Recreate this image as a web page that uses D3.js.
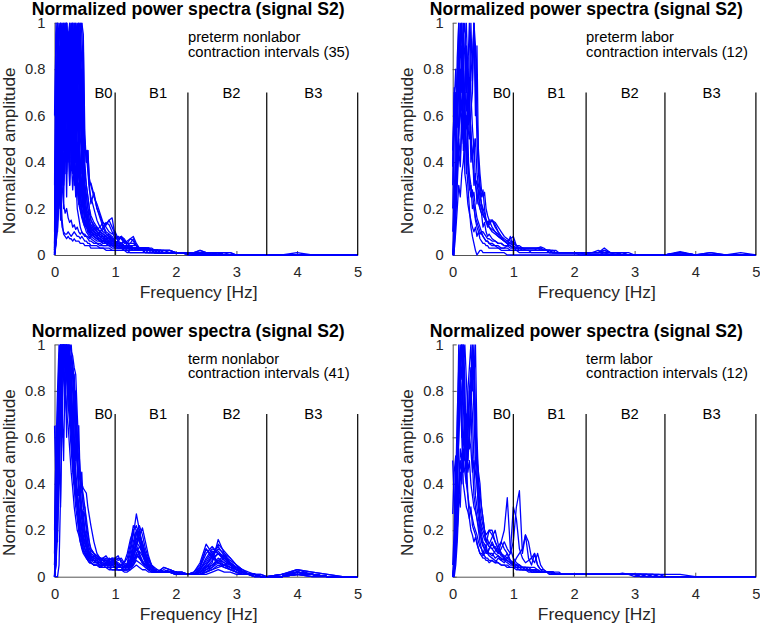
<!DOCTYPE html>
<html><head><meta charset="utf-8">
<script src="https://cdn.jsdelivr.net/npm/d3@7"></script>
<style>body{margin:0;background:#fff}svg{display:block}</style>
</head><body><svg id="c" width="760" height="627"></svg>
<script>
// ---------- DATA ----------
const freq = [0,.025,.05,.075,.1,.125,.15,.175,.2,.225,.25,.275,.3,.325,.35,.375,.4,.425,.45,.475,.5,.525,.55,.575,.6,
 .65,.7,.75,.8,.85,.9,.95,1,1.05,1.1,1.15,1.2,1.25,1.3,1.35,1.4,1.45,1.5,1.55,1.6,1.65,1.7,1.75,1.8,
 1.9,2,2.1,2.2,2.3,2.4,2.5,2.6,2.7,2.8,2.9,3,3.1,3.2,3.3,3.4,3.5,
 3.75,4,4.25,4.5,4.75,5];

const xTicks = [0,1,2,3,4,5];
const xTickLabels = ["0","1","2","3","4","5"];
const yTicks = [0,0.2,0.4,0.6,0.8,1];
const yTickLabels = ["0","0.2","0.4","0.6","0.8","1"];
const bandEdges = [1,2.2,3.5,5];
const bandNames = ["B0","B1","B2","B3"];
const bandTop = 0.7;
const titles = ["Normalized power spectra (signal S2)","Normalized power spectra (signal S2)","Normalized power spectra (signal S2)","Normalized power spectra (signal S2)"];
const groupNames = ["preterm nonlabor","preterm labor","term nonlabor","term labor"];
const groupCounts = [35,12,41,12];

const pretermNonlabor = [
 [0,.35,.72,.95,1,.82,.97,.64,.91,.58,.86,.47,.72,.39,.55,.28,.31,.22,.18,.14,.12,.1,.09,.08,.07, .06,.05,.05,.04,.04,.05,.04,.03,.03,.03,.02,.02,.02,.03,.02,.02,.02,.02,.02,.02,.01,.01,.01,.01, .01,.01,.01,.01,.01,.01,.01,.01,.01,0,0,0,0,0,0,0,0, 0,0,0,0,0,0],
 [.05,.6,.88,.7,.95,.76,1,.69,.94,.81,.99,.73,.88,.62,.8,.55,.66,.5,.45,.3,.2,.16,.12,.1,.09, .08,.07,.06,.06,.07,.08,.06,.05,.04,.04,.03,.03,.03,.02,.02,.02,.02,.02,.02,.01,.01,.01,.01,.01, .01,.01,.01,.01,.01,.01,.01,.01,0,0,0,0,0,0,0,0,0, 0,0,0,0,0,0],
 [.02,.2,.45,.38,.6,.52,.7,.48,.66,.59,.8,.67,.9,.75,.96,.82,1,.9,1,.95,.52,.4,.45,.3,.22, .27,.2,.17,.13,.1,.09,.08,.06,.05,.05,.04,.04,.03,.03,.03,.03,.03,.02,.02,.02,.02,.01,.01,.01, .01,.01,.01,.01,.01,.01,.01,.01,.01,.01,0,0,0,0,0,0,0, 0,0,0,0,0,0],
 [.3,1,.84,.42,.2,.12,.1,.09,.09,.1,.09,.08,.09,.1,.09,.08,.08,.07,.08,.07,.06,.06,.05,.05,.04, .04,.04,.03,.03,.03,.03,.02,.02,.02,.02,.02,.02,.01,.01,.01,.01,.01,.01,.01,.01,.01,.01,.01,.01, .01,.01,.01,.01,.01,0,0,0,0,0,0,0,0,0,0,0,0, 0,0,0,0,0,0],
 [.01,.15,.5,.82,.95,1,.87,.99,.74,.9,.6,.71,.44,.52,.33,.36,.24,.2,.17,.15,.13,.12,.14,.11,.12, .1,.11,.12,.14,.13,.15,.16,.08,.06,.05,.06,.04,.04,.03,.03,.03,.03,.03,.03,.02,.02,.02,.02,.02, .02,.01,.01,.01,.01,.01,.01,.01,.01,.01,.01,0,0,0,0,0,0, 0,0,0,0,0,0],
 [0,.1,.3,.55,.42,.68,.58,.76,.62,.85,.7,.93,.8,1,.86,.97,.78,.9,.62,.55,.48,.4,.45,.33,.3, .25,.22,.18,.14,.12,.1,.09,.1,.07,.08,.06,.05,.05,.05,.04,.03,.03,.03,.03,.02,.02,.02,.02,.02, .02,.01,.01,.01,.01,.01,.01,.01,.01,0,0,0,0,0,0,0,0, 0,0,0,0,0,0],
 [.03,.25,.7,.5,.85,.6,.95,.7,1,.62,.82,.45,.6,.3,.35,.2,.16,.12,.1,.09,.09,.08,.08,.07,.08, .09,.08,.1,.12,.14,.13,.1,.07,.08,.07,.06,.05,.05,.07,.04,.03,.03,.03,.02,.02,.02,.02,.02,.01, .01,.01,.01,.01,.01,.01,.01,0,0,0,0,0,0,0,0,0,0, 0,0,0,0,0,0],
 [.04,.45,.9,1,.92,.98,.85,1,.9,.96,.88,1,.92,.97,.86,.99,.91,.84,.7,.42,.3,.25,.2,.15,.13, .12,.1,.08,.07,.06,.05,.05,.04,.04,.03,.03,.03,.03,.03,.03,.02,.02,.02,.02,.02,.02,.01,.01,.01, .01,.01,.01,.01,.01,.01,.01,.01,.01,0,0,0,0,0,0,0,0, 0,0,0,0,0,0],
 [.02,.1,.2,.3,.25,.4,.35,.5,.42,.6,.5,.72,.65,.88,1,.7,.5,.35,.25,.2,.18,.16,.14,.12,.11, .1,.09,.09,.08,.08,.07,.06,.07,.08,.07,.05,.06,.07,.08,.05,.03,.03,.03,.03,.02,.02,.02,.02,.01, .01,.01,.01,.01,.01,.01,.01,.01,.01,0,0,0,0,0,0,0,0, 0,0,0,0,0,0],
 [0,.08,.35,.62,.9,.55,.8,1,.65,.93,.52,.77,.58,.66,.4,.48,.33,.27,.2,.16,.14,.12,.1,.09,.08, .07,.06,.06,.05,.05,.04,.04,.04,.03,.03,.03,.02,.02,.02,.02,.02,.02,.02,.01,.01,.01,.01,.01,.01, .01,.01,.01,.01,.01,.01,0,0,0,0,0,0,0,0,0,0,0, 0,0,0,0,0,0],
 [.01,.05,.12,.28,.46,.7,.88,.76,1,.82,.7,.56,.48,.4,.32,.28,.22,.19,.16,.14,.12,.13,.12,.11,.1, .11,.12,.1,.11,.13,.15,.12,.09,.06,.08,.07,.05,.04,.04,.04,.03,.03,.03,.03,.03,.02,.02,.02,.02, .02,.01,.01,.01,.01,.02,.01,.01,.01,.01,.01,0,0,0,0,0,0, 0,.01,0,0,0,0],
 [.02,.5,.8,.95,1,.9,.78,.85,.66,.72,.5,.6,.38,.45,.28,.35,.22,.26,.18,.2,.13,.15,.1,.11,.09, .08,.07,.06,.05,.05,.06,.04,.04,.03,.03,.03,.03,.02,.02,.02,.02,.02,.01,.01,.01,.01,.01,.01,.01, .01,.01,.01,0,0,0,0,0,0,0,0,0,0,0,0,0,0, 0,0,0,0,0,0],
 [.01,.12,.28,.4,.55,.5,.62,.58,.7,.66,.78,.74,.85,.8,.9,.93,.98,1,.82,.6,.44,.45,.38,.3,.31, .26,.2,.16,.12,.09,.08,.07,.05,.05,.04,.04,.04,.03,.03,.03,.03,.03,.03,.02,.02,.02,.02,.01,.01, .01,.01,.01,.01,.01,.01,.01,.01,0,0,0,0,0,0,0,0,0, 0,0,0,0,0,0],
 [.6,.95,1,.65,.3,.15,.09,.08,.07,.08,.07,.07,.06,.07,.06,.06,.06,.05,.05,.05,.04,.04,.04,.04,.03, .03,.03,.03,.03,.02,.02,.02,.02,.02,.02,.02,.01,.01,.01,.01,.01,.01,.01,.01,.01,.01,.01,.01,.01, .01,.01,.01,0,0,0,0,0,0,0,0,0,0,0,0,0,0, 0,0,0,0,0,0],
 [0,.2,.55,.75,.6,.82,.7,.9,.78,.95,.85,1,.88,.94,.7,.58,.42,.36,.28,.22,.2,.18,.16,.13,.12, .1,.09,.08,.08,.07,.06,.06,.05,.04,.04,.04,.04,.03,.03,.03,.03,.03,.02,.02,.02,.02,.02,.01,.01, .01,.01,.01,.01,.01,.01,.01,0,0,0,0,0,0,0,0,0,0, 0,0,0,0,0,0],
 [.01,.08,.22,.35,.5,.45,.6,.55,.7,.62,.8,.72,.88,.8,.95,1,.92,.7,.5,.38,.3,.26,.2,.18,.15, .13,.11,.1,.09,.08,.07,.06,.05,.05,.04,.04,.03,.03,.03,.03,.02,.02,.02,.02,.02,.02,.01,.01,.01, .01,.01,.01,.01,.01,.01,0,0,0,0,0,0,0,0,0,0,0, 0,0,0,0,0,0],
 [.02,.3,.65,.9,.7,1,.75,.95,.68,.88,.72,.96,.66,.9,.7,.85,.62,.7,.5,.35,.25,.2,.18,.15,.13, .11,.1,.09,.08,.07,.07,.06,.05,.05,.04,.04,.03,.03,.03,.03,.03,.02,.02,.02,.02,.02,.02,.01,.01, .01,.01,.01,.01,.01,.01,.01,.01,.01,0,0,0,0,0,0,0,0, 0,0,0,0,0,0],
 [0,.18,.4,.62,.85,.66,.92,.58,.8,.48,.75,.4,.65,.34,.58,.3,.45,.26,.33,.2,.16,.13,.11,.1,.09, .08,.07,.07,.06,.06,.05,.05,.05,.04,.04,.03,.03,.03,.03,.03,.02,.02,.02,.02,.02,.01,.01,.01,.01, .01,.01,.01,.01,.01,.01,0,0,0,0,0,0,0,0,0,0,0, 0,0,0,0,0,0],
 [.01,.06,.15,.25,.2,.35,.3,.45,.4,.55,.5,.65,.6,.72,.68,.8,.85,.95,1,.72,.46,.44,.36,.28,.25, .2,.15,.12,.1,.09,.08,.07,.06,.05,.05,.04,.04,.03,.03,.03,.03,.03,.02,.02,.02,.02,.02,.01,.01, .01,.01,.01,.01,.01,.02,.01,.01,.01,0,0,0,0,0,0,0,0, 0,0,0,0,0,0],
 [.1,.7,1,.8,.5,.3,.22,.18,.2,.16,.14,.15,.12,.13,.11,.12,.1,.09,.1,.09,.08,.08,.07,.06,.06, .05,.05,.04,.04,.04,.04,.03,.03,.03,.03,.02,.02,.02,.02,.02,.02,.02,.01,.01,.01,.01,.01,.01,.01, .01,.01,.01,.01,0,0,0,0,0,0,0,0,0,0,0,0,0, 0,0,0,0,0,0],
 [0,.14,.32,.5,.38,.62,.45,.8,1,.55,.7,.42,.6,.36,.5,.3,.4,.24,.3,.2,.18,.16,.14,.12,.1, .09,.08,.1,.09,.08,.09,.07,.06,.05,.05,.04,.04,.04,.03,.03,.03,.03,.03,.02,.02,.02,.02,.02,.01, .01,.01,.01,.01,.01,.01,.01,.01,0,0,0,0,0,0,0,0,0, 0,0,0,0,0,0],
 [0,.04,.16,.3,.45,.4,.55,.5,.66,.6,.78,.7,1,.82,.75,.6,.52,.4,.3,.25,.2,.17,.15,.13,.12, .1,.09,.08,.07,.07,.06,.05,.05,.06,.08,.06,.05,.07,.06,.04,.03,.03,.03,.03,.02,.02,.02,.02,.02, .01,.01,.01,.01,.01,.01,.01,.01,.01,0,0,0,0,0,0,0,0, 0,0,0,0,0,0],
 [.03,.4,.78,.92,1,.9,1,.88,1,.93,1,.86,1,.9,1,.88,1,.8,.55,.3,.2,.16,.14,.12,.1, .09,.08,.07,.06,.05,.05,.04,.04,.04,.03,.03,.03,.03,.02,.02,.02,.02,.02,.02,.02,.01,.01,.01,.01, .01,.01,.01,.01,.01,.01,.01,0,0,0,0,0,0,0,0,0,0, 0,0,0,0,0,0],
 [.01,.1,.25,.38,.3,.45,.32,1,.36,.48,.3,.42,.28,.4,.25,.35,.22,.3,.2,.22,.15,.14,.12,.1,.09, .08,.07,.06,.06,.05,.05,.04,.04,.04,.03,.03,.03,.03,.03,.02,.02,.02,.02,.02,.02,.01,.01,.01,.01, .01,.01,.01,.01,0,0,0,0,0,0,0,0,0,0,0,0,0, 0,0,0,0,0,0],
 [.05,.55,.75,.6,.9,.7,.98,.8,.92,.75,.95,.8,1,.78,.9,.7,.8,.6,.4,.25,.2,.15,.13,.11,.1, .09,.08,.07,.06,.06,.05,.05,.04,.04,.04,.03,.03,.03,.03,.02,.02,.02,.02,.02,.02,.01,.01,.01,.01, .01,.01,.01,.01,.01,.01,.01,0,0,0,0,0,0,0,0,0,0, 0,0,0,0,0,0],
 [0,.12,.3,.2,.5,.35,.65,.4,.75,.45,.85,.5,.9,.55,.95,.6,1,.65,.8,.5,.35,.3,.25,.2,.17, .14,.12,.1,.09,.08,.07,.06,.06,.05,.05,.04,.04,.04,.03,.03,.03,.03,.02,.02,.02,.02,.02,.01,.01, .01,.01,.01,.01,.01,.01,.01,.01,0,0,0,0,0,0,0,0,0, 0,0,0,0,0,0],
 [.02,.25,.15,.4,.25,.55,.3,.7,.35,.8,.4,.9,.45,1,.5,.85,.42,.75,.35,.45,.22,.18,.15,.12,.1, .09,.08,.07,.06,.06,.05,.05,.04,.04,.04,.03,.03,.03,.03,.03,.02,.02,.02,.02,.02,.01,.01,.01,.01, .01,.01,.01,.01,.01,.01,0,0,0,0,0,0,0,0,0,0,0, 0,0,0,0,0,0],
 [.01,.08,.6,.25,.8,.3,.9,.35,.95,.4,1,.38,.9,.32,.82,.28,.7,.25,.55,.22,.3,.2,.16,.13,.11, .1,.09,.08,.07,.06,.06,.05,.05,.04,.04,.04,.03,.03,.03,.03,.02,.02,.02,.02,.02,.02,.01,.01,.01, .01,.01,.01,.01,.01,.01,.01,0,0,0,0,0,0,0,0,0,0, 0,0,0,0,0,0],
 [.02,.18,.1,.3,.15,.45,.2,.6,.25,.7,.3,.78,.35,.85,.4,.92,.5,1,.6,.9,.4,.3,.25,.2,.15, .12,.1,.09,.08,.07,.06,.06,.05,.05,.04,.04,.04,.03,.03,.03,.03,.02,.02,.02,.02,.02,.01,.01,.01, .01,.01,.01,.01,.01,.01,.01,0,0,0,0,0,0,0,0,0,0, 0,0,0,0,0,0]
];

const pretermLabor = [
 [.38,.7,.5,.85,1,.6,.9,.45,.7,.35,.5,.28,.3,.2,.22,.15,.12,.1,.09,.1,.08,.07,.06,.06,.05, .05,.04,.04,.03,.03,.04,.08,.03,.02,.02,.02,.02,.02,.02,.02,.03,.03,.02,.02,.01,.01,.01,.01,.01, .01,.01,.01,.01,.01,.01,.03,.01,.01,.01,0,0,0,0,0,0,0, .015,0,.01,0,0,0],
 [0,0,.3,.6,.75,1,.8,.55,.65,.9,.5,.7,.4,.45,.3,.35,.22,.28,.2,.18,.12,.14,.1,.08,.09, .07,.06,.05,.05,.04,.04,.03,.03,.03,.02,.02,.02,.02,.02,.02,.02,.02,.02,.02,.01,.01,.01,.01,.01, .01,.01,.01,.01,0,0,.01,0,0,0,0,0,0,0,0,0,0, 0,0,0,0,0,0],
 [0,.05,.2,.35,.5,.42,.6,.5,.7,.62,.8,.7,1,.75,1,.6,.9,.4,.3,.25,.28,.2,.15,.12,.14, .15,.12,.1,.08,.06,.05,.04,.03,.03,.03,.02,.02,.02,.02,.02,.02,.02,.02,.02,.02,.01,.01,.01,.01, .01,.01,.01,.01,.01,.01,.01,.01,0,0,0,0,0,0,0,0,0, .01,0,0,0,0,0],
 [.45,.65,.8,.6,.7,.95,.75,1,.6,.4,.3,.2,.12,.08,.05,.02,0,.01,.02,.02,.01,.01,.01,.01,.01, .01,.01,.01,.01,.01,0,0,0,0,0,0,0,0,0,0,0,0,0,0,0,0,0,0,0, 0,0,0,0,0,0,0,0,0,0,0,0,0,0,0,0,0, 0,0,0,0,0,0],
 [.3,.72,.55,.4,.6,.8,.7,.95,1,.7,.85,.6,.55,.4,.5,.3,.32,.25,.22,.2,.18,.16,.14,.13,.15, .12,.1,.09,.07,.06,.05,.05,.04,.03,.03,.03,.03,.03,.03,.03,.03,.035,.03,.02,.02,.02,.01,.01,.01, .01,.01,.01,.01,.01,.02,.01,.01,.01,.01,0,0,0,0,0,0,0, .01,0,.01,0,0,0],
 [0,.1,.4,.7,.9,.85,1,.78,.55,.45,.38,.3,.25,.28,.2,.16,.14,.12,.1,.09,.08,.07,.06,.06,.05, .04,.04,.03,.03,.03,.03,.02,.02,.02,.02,.02,.02,.02,.01,.01,.01,.01,.01,.01,.01,.01,.01,.01,.01, .01,.01,0,0,0,0,0,0,0,0,0,0,0,0,0,0,0, 0,0,0,0,0,0],
 [0,.02,.1,.2,.3,.25,.35,.4,.5,.45,.55,.5,.62,.7,1,.9,.6,.45,.35,.28,.25,.27,.2,.17,.15, .15,.13,.1,.08,.07,.06,.05,.04,.03,.03,.02,.02,.02,.02,.02,.02,.02,.02,.02,.02,.01,.01,.01,.01, .01,.01,.01,.01,.01,.01,.01,.01,.01,0,0,0,0,0,0,0,0, 0,0,0,0,0,0],
 [.1,.3,.25,.45,.5,.65,.55,.75,.7,.88,.8,1,.7,.55,.45,.5,.35,.3,.25,.22,.2,.18,.15,.14,.12, .1,.09,.08,.07,.06,.05,.05,.06,.04,.03,.03,.02,.02,.02,.02,.02,.02,.02,.02,.02,.01,.01,.01,.01, .01,.01,.01,.01,.01,.01,.02,.01,.01,0,0,0,0,0,0,0,0, .01,0,0,0,0,0],
 [0,.2,.6,.75,1,.7,.5,.6,.35,.3,.22,.18,.15,.12,.1,.12,.08,.1,.07,.06,.05,.05,.04,.04,.03, .03,.03,.03,.02,.02,.02,.02,.02,.02,.01,.01,.01,.01,.01,.01,.01,.01,.01,.01,.01,.01,.01,.01,.01, .01,.01,.01,0,0,0,0,0,0,0,0,0,0,0,0,0,0, 0,0,0,0,0,0],
 [0,.05,.25,.4,.55,.7,.62,.8,.9,1,.75,.6,.5,.42,.35,.3,.26,.22,.2,.18,.17,.16,.15,.14,.13, .15,.14,.12,.1,.08,.07,.06,.05,.04,.04,.03,.03,.03,.03,.03,.03,.02,.02,.02,.02,.02,.02,.01,.01, .01,.01,.01,.01,.01,.01,.01,.01,.01,.01,.01,0,0,0,0,0,0, 0,0,0,0,0,0],
 [0,.04,.15,.3,.45,.38,.55,.48,.62,.55,.7,.6,.78,.85,1,.75,.5,.35,.28,.22,.18,.16,.15,.14,.12, .11,.1,.08,.07,.06,.06,.07,.08,.04,.03,.03,.02,.02,.02,.02,.02,.02,.02,.02,.01,.01,.01,.01,.01, .01,.01,.01,.01,.01,.01,.01,.01,.01,0,0,0,0,0,0,0,0, 0,0,0,0,0,0],
 [.2,.5,.7,.55,.8,.9,1,.7,.5,.6,.42,.35,.3,.25,.27,.2,.16,.14,.12,.1,.1,.09,.08,.07,.07, .06,.06,.05,.05,.04,.04,.04,.03,.03,.03,.03,.03,.03,.03,.03,.03,.03,.02,.02,.02,.01,.01,.01,.01, .01,.01,.01,.01,.01,.01,.02,.01,.01,0,0,0,0,0,0,0,0, .01,0,0,0,.01,0]
];

const termNonlabor = [
 [.1,.65,.4,.7,.9,1,.85,1,.9,.95,.8,.7,.55,.45,.35,.3,.25,.2,.18,.15,.12,.1,.09,.08,.07, .06,.06,.07,.05,.06,.07,.05,.06,.05,.04,.03,.05,.1,.18,.27,.2,.12,.08,.05,.03,.02,.02,.02,.02, .02,.02,.01,.01,.01,.01,.03,.05,.08,.06,.04,.03,.01,.01,.01,0,0, .01,.02,.01,0,0,0],
 [0,.2,.5,.8,1,.9,1,.95,1,.85,.9,.75,.6,.5,.4,.35,.3,.25,.2,.17,.15,.13,.1,.09,.08, .07,.06,.05,.05,.06,.05,.06,.07,.06,.05,.04,.06,.12,.2,.22,.18,.14,.1,.06,.04,.03,.02,.02,.02, .02,.02,.01,.01,.02,.04,.1,.13,.1,.07,.05,.03,.02,.01,.01,.01,0, .01,.03,.02,.01,0,0],
 [0,.05,.3,.6,.85,1,.95,1,.98,1,.92,.95,.88,.87,.65,.45,.38,.3,.25,.2,.17,.14,.12,.1,.09, .08,.07,.06,.05,.05,.04,.04,.04,.03,.03,.03,.03,.05,.08,.12,.1,.07,.05,.03,.03,.02,.02,.02,.03, .02,.02,.01,.01,.01,.02,.04,.06,.16,.1,.08,.05,.02,.01,.01,0,0, 0,.01,.01,0,0,0],
 [.05,.4,.7,.95,1,.98,1,.9,.95,.85,.8,.6,.5,.4,.38,.36,.35,.37,.3,.25,.2,.15,.12,.1,.1, .09,.08,.08,.07,.08,.06,.07,.06,.05,.05,.04,.04,.08,.15,.2,.16,.1,.06,.04,.03,.02,.02,.03,.04, .03,.02,.01,.01,.01,.02,.03,.04,.07,.09,.05,.03,.02,.01,.01,.01,0, 0,.02,.01,0,0,0],
 [0,.1,.45,.75,.9,1,.92,.98,.85,.9,.7,.65,.5,.45,.4,.3,.22,.18,.15,.12,.1,.1,.08,.07,.06, .05,.05,.04,.05,.04,.04,.05,.04,.03,.03,.03,.03,.04,.06,.09,.08,.06,.05,.04,.03,.02,.02,.02,.02, .02,.02,.02,.01,.02,.06,.14,.1,.06,.04,.03,.02,.01,.01,.01,0,0, .01,.02,.01,0,0,0],
 [.65,.4,.6,.85,1,.95,.9,1,.96,.88,.92,.8,.7,.6,.55,.5,.45,.4,.36,.3,.26,.2,.15,.12,.11, .1,.09,.08,.07,.06,.05,.05,.06,.05,.04,.04,.04,.06,.1,.16,.2,.14,.09,.05,.03,.02,.02,.02,.02, .02,.01,.01,.01,.01,.01,.02,.03,.05,.04,.03,.02,.01,.01,0,0,0, 0,.01,0,0,0,0],
 [0,.15,.35,.6,.8,.9,1,.95,1,.9,.98,.85,.92,.8,.75,.6,.5,.42,.4,.38,.37,.36,.3,.26,.22, .15,.1,.08,.08,.07,.07,.06,.07,.08,.07,.05,.04,.05,.1,.15,.13,.1,.07,.05,.04,.03,.03,.02,.02, .02,.02,.01,.01,.01,.01,.02,.04,.06,.08,.06,.04,.02,.01,.01,0,0, 0,.01,.01,0,0,0],
 [0,0,0,.05,.35,.7,1,.92,.97,1,.9,.95,.85,.6,.4,.3,.2,.15,.12,.1,.09,.08,.07,.06,.06, .05,.05,.04,.05,.06,.08,.07,.05,.04,.04,.03,.04,.06,.12,.18,.22,.18,.12,.08,.05,.03,.02,.02,.02, .02,.01,.01,.01,.01,.03,.08,.12,.11,.08,.05,.03,.02,.01,.01,0,0, 0,.02,.01,0,0,0],
 [.2,.55,.8,1,.95,.9,.85,.8,.7,.65,.55,.45,.38,.3,.25,.2,.18,.15,.13,.11,.1,.09,.08,.07,.06, .05,.05,.04,.04,.04,.03,.03,.03,.03,.03,.02,.02,.03,.05,.07,.06,.05,.04,.03,.02,.02,.02,.02,.02, .02,.01,.01,.01,.01,.01,.01,.02,.03,.02,.02,.01,.01,.01,0,0,0, 0,.01,0,0,0,0],
 [0,.1,.3,.55,.75,.95,1,.97,1,.94,.98,1,.9,.85,.7,.55,.4,.3,.25,.2,.18,.15,.12,.1,.09, .08,.07,.06,.06,.05,.05,.05,.04,.04,.05,.04,.04,.05,.07,.1,.13,.12,.1,.07,.05,.04,.03,.02,.02, .03,.02,.02,.01,.01,.02,.05,.09,.12,.1,.06,.03,.02,.01,.01,0,0, .01,.03,.02,.01,0,0],
 [.1,.3,.65,.9,1,.97,1,.9,.95,.85,.75,.65,.55,.48,.4,.35,.3,.25,.22,.18,.15,.13,.12,.1,.09, .08,.08,.07,.07,.06,.07,.08,.08,.07,.08,.06,.05,.04,.06,.1,.08,.06,.04,.03,.02,.02,.02,.03,.04, .03,.02,.02,.01,.01,.01,.03,.05,.07,.05,.04,.03,.02,.01,.01,0,0, 0,.02,.01,0,0,0],
 [0,.05,.2,.4,.65,.85,1,.95,1,.97,.9,.8,.7,.55,.42,.32,.26,.2,.16,.12,.1,.08,.07,.06,.06, .05,.05,.05,.04,.04,.04,.03,.03,.03,.03,.03,.03,.04,.08,.14,.2,.12,.07,.04,.03,.02,.02,.02,.02, .02,.02,.01,.01,.01,.04,.12,.09,.06,.05,.04,.02,.01,.01,0,0,0, 0,.01,.01,0,0,0],
 [0,.3,.6,.85,1,.9,1,.93,.9,.8,.82,.7,.6,.52,.45,.38,.3,.25,.2,.16,.14,.12,.1,.09,.08, .07,.06,.06,.05,.05,.06,.05,.04,.04,.05,.06,.08,.14,.22,.2,.15,.1,.07,.05,.04,.03,.02,.02,.02, .02,.02,.01,.01,.01,.02,.04,.07,.1,.07,.05,.03,.02,.01,0,0,0, 0,.02,.01,0,0,0],
 [0,.08,.25,.5,.7,.9,.98,1,.96,1,.9,.85,.8,.72,.6,.5,.4,.33,.28,.23,.18,.15,.12,.1,.08, .07,.06,.05,.05,.06,.07,.08,.07,.05,.04,.03,.03,.03,.04,.05,.04,.03,.03,.02,.02,.02,.02,.03,.02, .02,.01,.01,.01,.01,.01,.02,.03,.04,.05,.06,.04,.02,.01,.01,0,0, 0,.01,0,0,0,0],
 [0,.12,.4,.7,.92,1,.96,1,.9,.95,.85,.78,.62,.5,.4,.32,.26,.21,.17,.14,.12,.1,.09,.08,.07, .07,.06,.05,.05,.05,.05,.04,.04,.04,.04,.04,.05,.07,.1,.14,.18,.21,.15,.09,.05,.03,.02,.02,.02, .02,.02,.01,.01,.01,.03,.06,.1,.13,.09,.06,.04,.02,.01,.01,0,0, 0,.02,.01,0,0,0],
 [.05,.25,.55,.8,.95,1,.9,.97,.86,.8,.7,.62,.5,.42,.35,.3,.25,.2,.16,.14,.12,.11,.1,.08,.08, .07,.07,.08,.07,.06,.06,.07,.06,.05,.05,.06,.1,.16,.2,.14,.09,.06,.05,.04,.03,.03,.02,.02,.02, .02,.02,.01,.01,.02,.05,.12,.08,.06,.05,.03,.02,.01,.01,0,0,0, 0,.01,.01,0,0,0],
 [0,.2,.45,.7,.85,.95,1,.98,1,.96,1,.97,.95,.9,.87,.7,.55,.45,.38,.35,.3,.25,.2,.15,.12, .1,.08,.07,.06,.05,.05,.05,.04,.04,.04,.04,.04,.05,.09,.13,.17,.15,.1,.07,.05,.03,.02,.02,.02, .02,.02,.01,.01,.01,.02,.05,.09,.14,.11,.08,.05,.03,.01,.01,0,0, 0,.02,.01,0,0,0],
 [0,.1,.35,.65,.85,1,.95,.9,.85,.75,.65,.55,.45,.38,.3,.25,.2,.16,.13,.11,.1,.09,.08,.08,.08, .09,.08,.07,.08,.09,.07,.06,.08,.09,.06,.05,.04,.04,.05,.08,.11,.09,.06,.04,.03,.02,.02,.02,.02, .02,.01,.01,.01,.01,.02,.04,.05,.07,.06,.05,.04,.03,.02,.01,0,0, 0,.02,.01,0,0,0],
 [0,.35,.15,.55,.3,.75,.5,.9,.6,1,.7,.9,.6,.75,.5,.55,.35,.4,.25,.28,.2,.18,.14,.12,.1, .09,.08,.07,.07,.06,.06,.06,.05,.05,.05,.04,.04,.06,.1,.12,.09,.06,.05,.04,.03,.02,.02,.02,.02, .02,.02,.01,.01,.01,.02,.05,.08,.1,.09,.07,.05,.03,.01,.01,0,0, 0,.02,.01,0,0,0],
 [.05,.2,.6,.4,.85,.6,1,.75,.95,.8,1,.85,.9,.7,.8,.55,.65,.4,.45,.3,.3,.22,.18,.14,.12, .1,.09,.08,.07,.07,.06,.06,.06,.05,.05,.05,.05,.07,.13,.19,.16,.11,.07,.05,.04,.03,.02,.02,.02, .02,.02,.01,.01,.01,.03,.07,.11,.1,.08,.06,.04,.02,.01,.01,0,0, 0,.03,.01,0,0,0]
];

const termLabor = [
 [.27,.45,.52,.3,.6,.9,1,.75,.55,.4,.35,.3,.28,.25,.22,.2,.18,.15,.13,.12,.1,.09,.08,.08,.07, .07,.06,.06,.05,.05,.05,.04,.04,.04,.03,.03,.03,.03,.02,.02,.02,.02,.02,.02,.02,.02,.01,.01,.01, .01,.01,.01,.01,.01,.01,.01,.01,.01,.01,.01,.01,.01,.01,.01,.01,.01, .01,0,0,0,0,0],
 [0,.02,.1,.25,.4,.55,.5,.6,.7,.65,.8,.9,1,.8,.95,.6,.45,.35,.25,.22,.2,.18,.15,.17,.2, .18,.15,.12,.1,.08,.1,.07,.05,.05,.04,.04,.03,.03,.03,.03,.02,.02,.02,.02,.01,.01,.01,.01,.01, .01,.01,.01,.01,.01,.01,.01,.01,.01,.01,.01,.01,0,0,0,0,0, 0,0,0,0,0,0],
 [0,.05,.3,.6,1,.85,.7,.5,.45,.4,.6,.55,.75,.5,.35,.3,.25,.2,.15,.12,.1,.12,.14,.1,.12, .15,.12,.1,.12,.15,.12,.1,.15,.3,.37,.1,.18,.08,.05,.1,.05,.03,.03,.02,.02,.02,.02,.02,.01, .01,.01,.01,.01,.01,.01,.01,.01,.01,.01,.01,.01,.01,.01,0,0,0, 0,0,0,0,0,0],
 [0,.02,.2,.45,.7,.85,1,.9,.6,.7,.5,.65,.8,.95,.7,.5,.4,.3,.22,.18,.15,.14,.12,.1,.12, .14,.12,.1,.15,.2,.34,.12,.08,.06,.05,.04,.04,.03,.03,.03,.02,.02,.02,.02,.02,.01,.01,.01,.01, .01,.01,.01,.01,.01,.01,.01,.01,.01,.015,.01,.01,.01,.01,.01,0,0, 0,0,0,0,0,0],
 [0,0,.05,.15,.3,.45,.4,.55,.5,.65,.6,.8,.9,.85,1,.7,.55,.4,.3,.25,.22,.2,.18,.19,.2, .2,.15,.12,.1,.08,.07,.06,.05,.04,.04,.04,.03,.03,.03,.02,.02,.02,.02,.02,.01,.01,.01,.01,.01, .01,.01,.01,.01,.01,.01,.01,.01,.01,.01,.01,0,0,0,0,0,0, 0,0,0,0,0,0],
 [0,.1,.4,.7,.9,1,.6,.4,.35,.3,.28,.25,.3,.22,.2,.18,.15,.12,.1,.09,.08,.08,.07,.07,.06, .07,.06,.08,.07,.06,.08,.1,.3,.25,.12,.08,.06,.07,.08,.1,.05,.03,.02,.02,.02,.02,.01,.01,.01, .01,.01,.01,.01,.01,.01,.01,.01,.01,.01,.01,.01,0,0,0,0,0, 0,0,0,0,0,0],
 [.05,.2,.5,.45,.6,.75,.8,.9,1,.85,.7,.6,.55,.45,.5,.35,.3,.25,.2,.15,.13,.12,.11,.1,.09, .08,.07,.06,.05,.05,.04,.04,.04,.03,.03,.03,.03,.02,.02,.02,.02,.02,.02,.02,.02,.01,.01,.01,.01, .01,.01,.01,.01,.01,.01,.01,.01,.01,.01,.01,.01,.01,.01,0,0,0, 0,0,0,0,0,0],
 [0,.03,.12,.2,.35,.3,.5,.45,.6,.55,.7,.75,.85,1,.9,.6,.5,.45,.4,.3,.25,.2,.16,.14,.13, .12,.1,.09,.08,.07,.06,.05,.05,.04,.04,.03,.03,.03,.02,.02,.02,.02,.02,.02,.02,.01,.01,.01,.01, .01,.01,.01,.01,.01,.01,.01,.01,.01,.01,.01,.01,.01,.01,.01,.01,0, 0,0,0,0,0,0],
 [0,.05,.2,.5,.8,.95,.85,1,.7,.6,.45,.5,.4,.35,.3,.28,.25,.22,.18,.16,.14,.12,.1,.1,.1, .1,.08,.09,.07,.08,.07,.06,.05,.08,.1,.12,.18,.15,.08,.06,.1,.05,.03,.02,.02,.02,.01,.01,.01, .01,.01,.01,.01,.01,.01,.01,.01,.01,.01,.01,.01,.01,.01,.01,0,0, 0,0,0,0,0,0],
 [.5,.35,.15,.4,.7,.8,.6,1,.85,.5,.35,.25,.2,.18,.15,.17,.14,.12,.1,.1,.09,.1,.12,.11,.1, .09,.11,.13,.15,.12,.1,.07,.06,.05,.05,.04,.04,.04,.04,.04,.03,.02,.02,.02,.02,.02,.01,.01,.01, .01,.01,.01,.01,.01,.01,.01,.01,.01,.01,.01,.01,.01,0,0,0,0, 0,0,0,0,0,0],
 [0,.08,.3,.55,.75,.9,1,.95,.7,.55,.5,.6,.8,.7,.5,.45,.4,.3,.25,.2,.18,.16,.15,.14,.13, .12,.13,.11,.09,.08,.07,.06,.05,.05,.04,.04,.04,.03,.03,.03,.03,.02,.02,.02,.02,.02,.01,.01,.01, .01,.01,.01,.01,.01,.01,.01,.01,.01,.01,.01,.01,.01,0,0,0,0, 0,0,0,0,0,0],
 [0,.02,.1,.2,.35,.5,.45,.6,.55,.7,.65,.8,.75,.9,.85,1,.6,.42,.35,.3,.25,.2,.15,.16,.14, .17,.2,.14,.1,.09,.08,.07,.06,.05,.05,.04,.04,.04,.03,.03,.03,.02,.02,.02,.02,.02,.01,.01,.01, .01,.01,.01,.01,.01,.01,.01,.01,.01,.01,.01,.01,0,0,0,0,0, 0,0,0,0,0,0]
];

// ---------- LAYOUT ----------
const svg = d3.select("#c");
const PW = 303.2, PH = 232.3;
const origins = [[54.5,22.7],[452.7,22.7],[54.5,344.4],[452.7,344.4]];
const series = [pretermNonlabor, pretermLabor, termNonlabor, termLabor];
const bandLabelX = [0.66,1.56,2.77,4.12];
const FONT = "'Liberation Sans', Arial, Helvetica, sans-serif";
const AX = "#262626";

function fitSize(text, weight, target, guess){
  const t = svg.append("text").attr("font-family",FONT).attr("font-size",guess)
     .attr("font-weight",weight).text(text);
  const w = t.node().getComputedTextLength();
  t.remove();
  return w>0 ? guess*target/w : guess;
}
const fsTick  = fitSize("0.8","normal",20.5,14);
const fsAnn   = fitSize("contraction intervals (35)","normal",162,14);
const fsTitle = fitSize(titles[0],"bold",313,17.5);
const fsXLab  = fitSize("Frequency [Hz]","normal",118,16.5);
const fsYLab  = fitSize("Normalized amplitude","normal",167,17);

const x = d3.scaleLinear().domain([0,5]).range([0,PW]);
const y = d3.scaleLinear().domain([0,1]).range([PH,0]);

const defs = svg.append("defs");
defs.append("clipPath").attr("id","clip").append("rect")
  .attr("x",-1).attr("y",0).attr("width",PW+2).attr("height",PH+1);

origins.forEach((o,p) => {
  const g = svg.append("g").attr("transform",`translate(${o[0]},${o[1]})`);

  const ya = g.append("g").call(d3.axisLeft(y).tickValues(yTicks).tickSize(-4).tickSizeOuter(0)
      .tickPadding(9).tickFormat((d,i)=>yTickLabels[i]));
  const xa = g.append("g").attr("transform",`translate(0,${PH})`)
      .call(d3.axisBottom(x).tickValues(xTicks).tickSize(-4).tickSizeOuter(0)
      .tickPadding(12).tickFormat((d,i)=>xTickLabels[i]));
  [ya,xa].forEach(a=>{
    a.attr("font-size",fsTick).attr("font-family",FONT);
    a.select(".domain").attr("stroke","#555").attr("stroke-width",1);
    a.selectAll(".tick line").attr("stroke","#555").attr("stroke-width",1);
    a.selectAll("text").attr("fill",AX).attr("font-size",fsTick).style("font-size",fsTick+"px");
  });
  xa.selectAll(".tick line").filter(d=>d===0||d===5).remove();

  const line = d3.line().x((d,i)=>x(freq[i])).y(d=>y(d));
  g.append("g").attr("clip-path","url(#clip)")
    .selectAll("path").data(series[p]).join("path")
    .attr("d",line).attr("fill","none").attr("stroke","#0000ff")
    .attr("stroke-width",1.3).attr("stroke-linejoin","round");

  g.selectAll(".band").data(bandEdges).join("line")
    .attr("x1",d=>x(d)).attr("x2",d=>x(d)).attr("y1",y(0)).attr("y2",y(bandTop))
    .attr("stroke","#000").attr("stroke-width",1.2);
  g.selectAll(".bname").data(bandNames).join("text")
    .attr("x",(d,i)=>x(bandLabelX[i])).attr("y",y(bandTop)).attr("dy","0.35em")
    .attr("font-family",FONT).attr("font-size",fsAnn).attr("fill","#000").text(d=>d);

  const ann = g.append("text").attr("font-family",FONT).attr("font-size",fsAnn).attr("fill","#000");
  ann.append("tspan").attr("x",x(2.2)).attr("y",19.6).text(groupNames[p]);
  ann.append("tspan").attr("x",x(2.2)).attr("y",34).text(`contraction intervals (${groupCounts[p]})`);

  g.append("text").attr("x",PW/2-18).attr("y",-7.5).attr("text-anchor","middle")
    .attr("font-family",FONT).attr("font-size",fsTitle).attr("font-weight","bold")
    .attr("fill","#000").text(titles[p]);

  g.append("text").attr("x",PW/2-7.5).attr("y",PH+43).attr("text-anchor","middle")
    .attr("font-family",FONT).attr("font-size",fsXLab).attr("fill",AX).text("Frequency [Hz]");
  g.append("text").attr("transform",`translate(-40,${PH/2+12}) rotate(-90)`).attr("text-anchor","middle")
    .attr("font-family",FONT).attr("font-size",fsYLab).attr("fill",AX).text("Normalized amplitude");
});
</script></body></html>
